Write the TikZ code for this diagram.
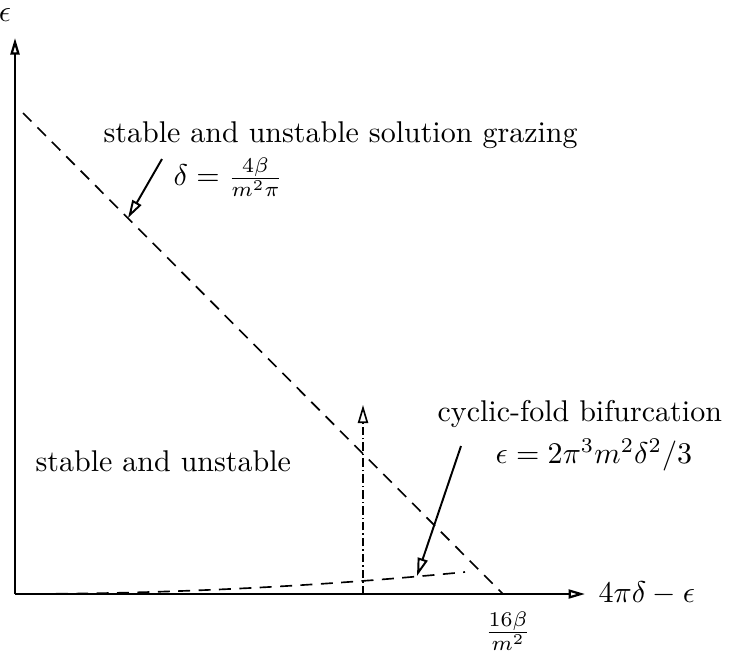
\documentclass[tikz,border=0pt]{standalone}
\usepackage{amsmath,amsfonts,amssymb}
\usepackage{tikz}
\usetikzlibrary{arrows.meta}

\begin{document}
\begin{tikzpicture}[
  x=0.3333pt, y=-0.3333pt,
  every node/.style={inner sep=0pt, font=\normalsize},
  axis/.style={line width=0.75pt, -{Triangle[open, length=5.5pt, width=3pt]}},
  pointer/.style={line width=0.65pt, -{Triangle[open, length=6pt, width=3.4pt]}},
  branch/.style={line width=0.55pt, dash pattern=on 4pt off 2.8pt},
  mark line/.style={line width=0.55pt, dash pattern=on 2.8pt off 1pt on 0.5pt off 1pt}
]
\useasboundingbox (0,0) rectangle (735,652);

% axes
\coordinate (O) at (15,594);
\coordinate (ytip) at (15,38);
\coordinate (xtip) at (585,594);
\draw[axis] (O) -- (ytip);
\draw[axis] (O) -- (xtip);
\node (elab) at (5,15) {$\epsilon$};
\node[anchor=base west] (xlab) at (598,602) {$4\pi\delta-\epsilon$};
\node (xval) at (508,631) {$\frac{16\beta}{m^2}$};

% grazing line and fold curve
\coordinate (gtop) at (23,113);
\coordinate (gbot) at (503,594);
\coordinate (fend) at (465,572);
\draw[branch] (gtop) -- (gbot);
\draw[branch] (O) parabola (fend);

% vertical dash-dot
\coordinate (vbot) at (363,594);
\coordinate (vtip) at (363,405);
\draw[mark line, -{Triangle[open, length=6pt, width=3.4pt]}] (vbot) -- (vtip);

% labels
\node[anchor=base west] (graze) at (103,142) {stable and unstable solution grazing};
\node[anchor=west] (geq) at (173,177) {$\delta=\frac{4\beta}{m^2\pi}$};
\node[anchor=base west] (region) at (35,471) {stable and unstable};
\node[anchor=base west] (fold) at (437,421) {cyclic-fold bifurcation};
\node[anchor=base west] (feq) at (495,463) {$\epsilon=2\pi^3m^2\delta^2/3$};

% pointers
\coordinate (gfrom) at (162,159);
\coordinate (gto) at (128,218);
\coordinate (ffrom) at (461,446);
\coordinate (fto) at (417,576);
\draw[pointer] (gfrom) -- (gto);
\draw[pointer] (ffrom) -- (fto);

\end{tikzpicture}
\end{document}
